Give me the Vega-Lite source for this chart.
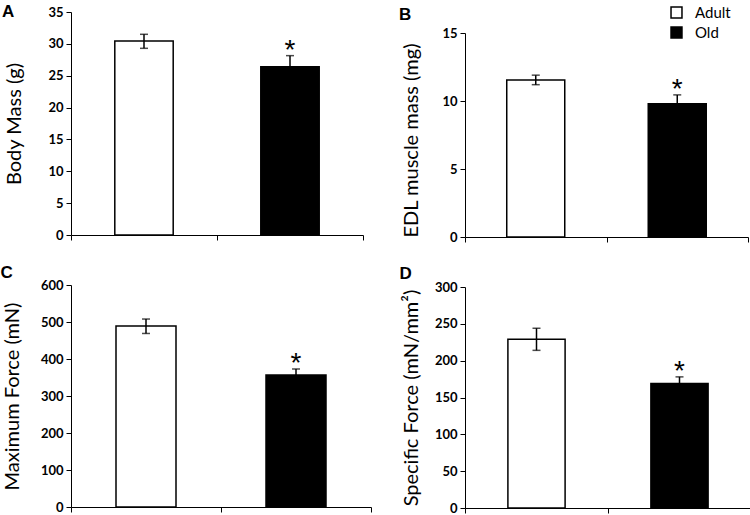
{
  "$schema": "https://vega.github.io/schema/vega-lite/v6.json",
  "background": "white",
  "padding": {"left": 0, "top": 3, "right": 0, "bottom": 0},
  "data": {"values": [
    {"panel": "A", "group": "Adult", "mean": 30.45, "lo": 29.3, "hi": 31.5, "sig": ""},
    {"panel": "A", "group": "Old", "mean": 26.4, "lo": 24.6, "hi": 28.15, "sig": "*"},
    {"panel": "B", "group": "Adult", "mean": 11.55, "lo": 11.2, "hi": 11.9, "sig": ""},
    {"panel": "B", "group": "Old", "mean": 9.8, "lo": 9.2, "hi": 10.45, "sig": "*"},
    {"panel": "C", "group": "Adult", "mean": 489, "lo": 469, "hi": 508, "sig": ""},
    {"panel": "C", "group": "Old", "mean": 357, "lo": 342, "hi": 373, "sig": "*"},
    {"panel": "D", "group": "Adult", "mean": 229, "lo": 214, "hi": 244, "sig": ""},
    {"panel": "D", "group": "Old", "mean": 169, "lo": 160, "hi": 178, "sig": "*"}
  ]},
  "config": {
    "view": {"stroke": null},
    "font": "Lato",
    "axis": {"domainColor": "black", "tickColor": "black", "labelColor": "black", "titleColor": "black", "grid": false,
             "labelFont": "Lato", "labelFontWeight": "bold", "labelFontSize": 13, "labelPadding": 3,
             "titleFont": "Lato", "titleFontWeight": "normal", "titleFontSize": 20,
             "tickSize": 5, "domainWidth": 1, "tickWidth": 1, "labelOverlap": false},
    "axisX": {"labels": false, "title": null, "tickBand": "extent"},
    "title": {"font": "Liberation Sans", "fontSize": 17, "fontWeight": "bold", "anchor": "start", "frame": "bounds", "color": "black", "baseline": "alphabetic"}
  },
  "bounds": "flush",
  "columns": 2,
  "spacing": {"row": 48, "column": 94},
  "resolve": {"scale": {"fill": "independent"}, "legend": {"fill": "independent"}},
  "concat": [
    {
      "width": 292, "height": 223,
      "title": {"text": "A", "offset": -15, "dx": -3},
      "transform": [{"filter": "datum.panel === 'A'"}],
      "encoding": {"x": {"field": "group", "type": "nominal", "sort": ["Adult", "Old"], "scale": {"paddingInner": 0, "paddingOuter": 0}}},
      "layer": [
        {"mark": {"type": "bar", "stroke": "black", "strokeWidth": 1.5, "width": {"band": 0.4}},
         "encoding": {"y": {"field": "mean", "type": "quantitative", "title": "Body Mass (g)", "scale": {"domain": [0, 35], "nice": false}, "axis": {"values": [0, 5, 10, 15, 20, 25, 30, 35], "titlePadding": 23}},
                      "fill": {"field": "group", "type": "nominal", "scale": {"domain": ["Adult", "Old"], "range": ["white", "black"]}, "legend": null}}},
        {"mark": {"type": "rule", "color": "black", "strokeWidth": 1.5},
         "encoding": {"y": {"field": "lo", "type": "quantitative", "title": "Body Mass (g)", "scale": {"domain": [0, 35], "nice": false}, "axis": {"values": [0, 5, 10, 15, 20, 25, 30, 35], "titlePadding": 23}}, "y2": {"field": "hi"}}},
        {"mark": {"type": "tick", "color": "black", "thickness": 1.5, "size": 8},
         "encoding": {"y": {"field": "hi", "type": "quantitative", "title": "Body Mass (g)", "scale": {"domain": [0, 35], "nice": false}, "axis": {"values": [0, 5, 10, 15, 20, 25, 30, 35], "titlePadding": 23}}}},
        {"mark": {"type": "tick", "color": "black", "thickness": 1.5, "size": 8},
         "encoding": {"y": {"field": "lo", "type": "quantitative", "title": "Body Mass (g)", "scale": {"domain": [0, 35], "nice": false}, "axis": {"values": [0, 5, 10, 15, 20, 25, 30, 35], "titlePadding": 23}}}},
        {"mark": {"type": "text", "font": "Liberation Sans", "fontSize": 28, "baseline": "alphabetic", "dy": 3, "color": "black"},
         "encoding": {"y": {"field": "hi", "type": "quantitative", "title": "Body Mass (g)", "scale": {"domain": [0, 35], "nice": false}, "axis": {"values": [0, 5, 10, 15, 20, 25, 30, 35], "titlePadding": 23}}, "text": {"field": "sig"}}}
      ]
    },
    {
      "width": 283, "height": 225,
      "title": {"text": "B", "offset": -19, "dx": -3},
      "transform": [{"filter": "datum.panel === 'B'"}],
      "encoding": {"x": {"field": "group", "type": "nominal", "sort": ["Adult", "Old"], "scale": {"paddingInner": 0, "paddingOuter": 0}}},
      "layer": [
        {"mark": {"type": "bar", "stroke": "black", "strokeWidth": 1.5, "width": {"band": 0.41}},
         "encoding": {"y": {"field": "mean", "type": "quantitative", "title": "EDL muscle mass (mg)", "scale": {"domain": [0, 15], "nice": false, "range": [225, 21]}, "axis": {"values": [0, 5, 10, 15], "titlePadding": 20, "titleY": 128}},
                      "fill": {"field": "group", "type": "nominal", "scale": {"domain": ["Adult", "Old"], "range": ["white", "black"]},
                               "legend": {"orient": "none", "legendX": 204, "legendY": -7, "title": null, "symbolType": "square", "symbolSize": 120, "symbolStrokeColor": "black", "symbolStrokeWidth": 1.5, "labelFont": "Lato", "labelFontSize": 15, "labelFontWeight": "normal", "labelOffset": 11, "rowPadding": 3, "labelColor": "black"}}}},
        {"mark": {"type": "rule", "color": "black", "strokeWidth": 1.5},
         "encoding": {"y": {"field": "lo", "type": "quantitative", "title": "EDL muscle mass (mg)", "scale": {"domain": [0, 15], "nice": false, "range": [225, 21]}, "axis": {"values": [0, 5, 10, 15], "titlePadding": 20, "titleY": 128}}, "y2": {"field": "hi"}}},
        {"mark": {"type": "tick", "color": "black", "thickness": 1.5, "size": 8},
         "encoding": {"y": {"field": "hi", "type": "quantitative", "title": "EDL muscle mass (mg)", "scale": {"domain": [0, 15], "nice": false, "range": [225, 21]}, "axis": {"values": [0, 5, 10, 15], "titlePadding": 20, "titleY": 128}}}},
        {"mark": {"type": "tick", "color": "black", "thickness": 1.5, "size": 8},
         "encoding": {"y": {"field": "lo", "type": "quantitative", "title": "EDL muscle mass (mg)", "scale": {"domain": [0, 15], "nice": false, "range": [225, 21]}, "axis": {"values": [0, 5, 10, 15], "titlePadding": 20, "titleY": 128}}}},
        {"mark": {"type": "text", "font": "Liberation Sans", "fontSize": 28, "baseline": "alphabetic", "dy": 3, "color": "black"},
         "encoding": {"y": {"field": "hi", "type": "quantitative", "title": "EDL muscle mass (mg)", "scale": {"domain": [0, 15], "nice": false, "range": [225, 21]}, "axis": {"values": [0, 5, 10, 15], "titlePadding": 20, "titleY": 128}}, "text": {"field": "sig"}}}
      ]
    },
    {
      "width": 300, "height": 222,
      "title": {"text": "C", "offset": -3, "dx": -2},
      "transform": [{"filter": "datum.panel === 'C'"}],
      "encoding": {"x": {"field": "group", "type": "nominal", "sort": ["Adult", "Old"], "scale": {"paddingInner": 0, "paddingOuter": 0}}},
      "layer": [
        {"mark": {"type": "bar", "stroke": "black", "strokeWidth": 1.5, "width": {"band": 0.4}},
         "encoding": {"y": {"field": "mean", "type": "quantitative", "title": "Maximum Force (mN)", "scale": {"domain": [0, 600], "nice": false}, "axis": {"values": [0, 100, 200, 300, 400, 500, 600], "titlePadding": 18}},
                      "fill": {"field": "group", "type": "nominal", "scale": {"domain": ["Adult", "Old"], "range": ["white", "black"]}, "legend": null}}},
        {"mark": {"type": "rule", "color": "black", "strokeWidth": 1.5},
         "encoding": {"y": {"field": "lo", "type": "quantitative", "title": "Maximum Force (mN)", "scale": {"domain": [0, 600], "nice": false}, "axis": {"values": [0, 100, 200, 300, 400, 500, 600], "titlePadding": 18}}, "y2": {"field": "hi"}}},
        {"mark": {"type": "tick", "color": "black", "thickness": 1.5, "size": 8},
         "encoding": {"y": {"field": "hi", "type": "quantitative", "title": "Maximum Force (mN)", "scale": {"domain": [0, 600], "nice": false}, "axis": {"values": [0, 100, 200, 300, 400, 500, 600], "titlePadding": 18}}}},
        {"mark": {"type": "tick", "color": "black", "thickness": 1.5, "size": 8},
         "encoding": {"y": {"field": "lo", "type": "quantitative", "title": "Maximum Force (mN)", "scale": {"domain": [0, 600], "nice": false}, "axis": {"values": [0, 100, 200, 300, 400, 500, 600], "titlePadding": 18}}}},
        {"mark": {"type": "text", "font": "Liberation Sans", "fontSize": 28, "baseline": "alphabetic", "dy": 3, "color": "black"},
         "encoding": {"y": {"field": "hi", "type": "quantitative", "title": "Maximum Force (mN)", "scale": {"domain": [0, 600], "nice": false}, "axis": {"values": [0, 100, 200, 300, 400, 500, 600], "titlePadding": 18}}, "text": {"field": "sig"}}}
      ]
    },
    {
      "width": 286, "height": 223,
      "title": {"text": "D", "offset": -2, "dx": -2},
      "transform": [{"filter": "datum.panel === 'D'"}],
      "encoding": {"x": {"field": "group", "type": "nominal", "sort": ["Adult", "Old"], "scale": {"paddingInner": 0, "paddingOuter": 0}}},
      "layer": [
        {"mark": {"type": "bar", "stroke": "black", "strokeWidth": 1.5, "width": {"band": 0.4}},
         "encoding": {"y": {"field": "mean", "type": "quantitative", "title": "Specific Force (mN/mm²)", "scale": {"domain": [0, 300], "nice": false, "range": [223, 2]}, "axis": {"values": [0, 50, 100, 150, 200, 250, 300], "titlePadding": 13}},
                      "fill": {"field": "group", "type": "nominal", "scale": {"domain": ["Adult", "Old"], "range": ["white", "black"]}, "legend": null}}},
        {"mark": {"type": "rule", "color": "black", "strokeWidth": 1.5},
         "encoding": {"y": {"field": "lo", "type": "quantitative", "title": "Specific Force (mN/mm²)", "scale": {"domain": [0, 300], "nice": false, "range": [223, 2]}, "axis": {"values": [0, 50, 100, 150, 200, 250, 300], "titlePadding": 13}}, "y2": {"field": "hi"}}},
        {"mark": {"type": "tick", "color": "black", "thickness": 1.5, "size": 8},
         "encoding": {"y": {"field": "hi", "type": "quantitative", "title": "Specific Force (mN/mm²)", "scale": {"domain": [0, 300], "nice": false, "range": [223, 2]}, "axis": {"values": [0, 50, 100, 150, 200, 250, 300], "titlePadding": 13}}}},
        {"mark": {"type": "tick", "color": "black", "thickness": 1.5, "size": 8},
         "encoding": {"y": {"field": "lo", "type": "quantitative", "title": "Specific Force (mN/mm²)", "scale": {"domain": [0, 300], "nice": false, "range": [223, 2]}, "axis": {"values": [0, 50, 100, 150, 200, 250, 300], "titlePadding": 13}}}},
        {"mark": {"type": "text", "font": "Liberation Sans", "fontSize": 28, "baseline": "alphabetic", "dy": 3, "color": "black"},
         "encoding": {"y": {"field": "hi", "type": "quantitative", "title": "Specific Force (mN/mm²)", "scale": {"domain": [0, 300], "nice": false, "range": [223, 2]}, "axis": {"values": [0, 50, 100, 150, 200, 250, 300], "titlePadding": 13}}, "text": {"field": "sig"}}}
      ]
    }
  ]
}
